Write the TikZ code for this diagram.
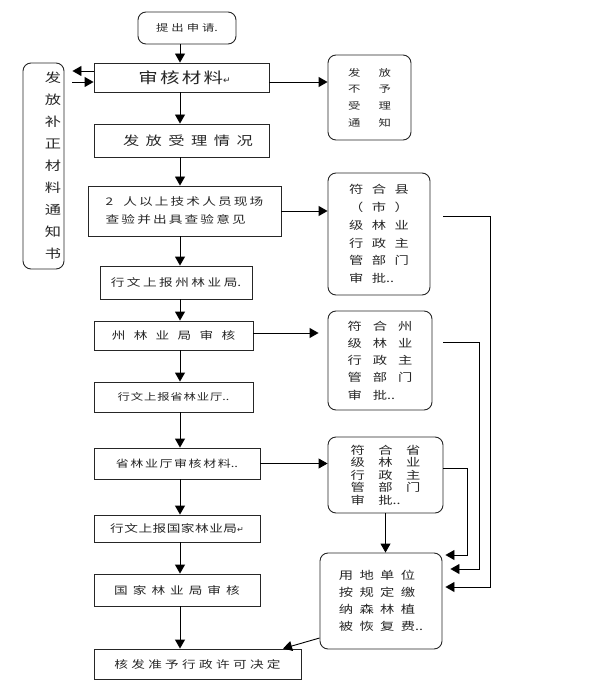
\documentclass[tikz,border=0pt]{standalone}
\usepackage{fontspec}
\setmainfont{Noto Sans CJK SC}[FakeStretch=1.3]
\newfontfamily\dvfont{DejaVu Sans}
\usetikzlibrary{arrows.meta}
\newcommand\ls[2]{\def\lssep{#1}\lsfirst#2\relax}
\def\lsfirst#1{#1\lsloop}
\def\lsloop#1{\ifx#1\relax\else\hspace{\lssep}#1\expandafter\lsloop\fi}
\newcommand\fsz[2]{\fontsize{#1}{#2}\selectfont}
\tikzset{
  box/.style={draw=black!85, line width=0.9pt, rectangle, inner sep=3pt, text=black!85, font=\fsz{10.5}{13}},
  rbox/.style={box, rounded corners=8pt},
  arr/.style={draw=black, line width=0.9pt, -{Triangle[length=9pt,width=10pt]}},
}
\begin{document}
\begin{tikzpicture}[x=1pt,y=-1pt]
\useasboundingbox (0,0) rectangle (590,692);
\coordinate (col) at (180,0);

% main column
\node[rbox, minimum width=98pt, minimum height=32pt] (apply) at (187,28) {\fsz{9.5}{12}\ls{3pt}{提出申请}.\hspace{10pt}};
\node[box, minimum width=175pt, minimum height=29pt] (audit) at (181.5,77.5) {\fsz{15}{18}\hspace{6pt}\ls{2.3pt}{审核材料}{\dvfont\fsz{9}{10}↵}};
\node[box, minimum width=175pt, minimum height=33pt] (issue) at (181.5,140.5) {\fsz{12.5}{15}\hspace{13pt}\ls{6.5pt}{发放受理情况}};
\node[box, minimum width=193pt, minimum height=50pt, align=left, font=\fsz{10.5}{18}] (check) at (184.5,211)
  {2\hspace{10pt}\ls{2.15pt}{人以上技术人员现场}\\\ls{2.15pt}{查验并出具查验意见}};
\node[box, minimum width=152pt, minimum height=33pt] (rep1) at (176,282.5) {\ls{2.5pt}{行文上报州林业局}.};
\node[box, minimum width=159pt, minimum height=29pt] (zhou) at (173.5,335.5) {\ls{8.3pt}{州林业局审核}};
\node[box, minimum width=159pt, minimum height=30pt] (rep2) at (173.5,397) {\fsz{9.5}{12}\ls{0.85pt}{行文上报省林业厅}..};
\node[box, minimum width=166pt, minimum height=31pt] (sheng) at (177,463.5) {\fsz{10}{12}\ls{1.57pt}{省林业厅审核材料}..};
\node[box, minimum width=166pt, minimum height=27pt] (rep3) at (177,528.5) {\ls{0.5pt}{行文上报国家林业局}{\dvfont\fsz{8}{10}↵}\hspace{10pt}};
\node[box, minimum width=166pt, minimum height=32pt] (guo) at (177,590) {\ls{5pt}{国家林业局审核}};
\node[box, minimum width=207pt, minimum height=30pt] (final) at (197.5,664) {\ls{3.3pt}{核发准予行政许可决定}};

% left notice
\node[rbox, minimum width=41pt, minimum height=206pt, inner xsep=3pt, text width=35pt, align=right, font=\fsz{12.5}{22}] (notice) at (43.5,166)
  {发\\放\\补\\正\\材\\料\\通\\知\\书};

% right boxes
\node[rbox, minimum width=83pt, minimum height=85pt, align=left, font=\fsz{9.5}{16.7}] (reject) at (369.5,97.5)
  {\ls{18pt}{发放}\\\ls{18pt}{不予}\\\ls{18pt}{受理}\\\ls{18pt}{通知}};
\node[rbox, minimum width=102pt, minimum height=122pt, align=left, font=\fsz{11}{17.8}] (xian) at (379,234)
  {\ls{8.5pt}{符合县}\\\ls{8.5pt}{（市）}\\\ls{8.5pt}{级林业}\\\ls{8.5pt}{行政主}\\\ls{8.5pt}{管部门}\\\ls{8.5pt}{审批}..};
\node[rbox, minimum width=104pt, minimum height=99pt, align=left, font=\fsz{11}{17.25}] (zhouok) at (380,360.5)
  {\ls{11pt}{符合州}\\\ls{11pt}{级林业}\\\ls{11pt}{行政主}\\\ls{11pt}{管部门}\\\ls{11pt}{审批}..};
\node[rbox, minimum width=115pt, minimum height=76pt, align=left, font=\fsz{11}{12.5}] (shengok) at (385.5,475)
  {\ls{13.5pt}{符合省}\\\ls{13.5pt}{级林业}\\\ls{13.5pt}{行政主}\\\ls{13.5pt}{管部门}\\\ls{13.5pt}{审批}..};
\node[rbox, minimum width=122pt, minimum height=96pt, align=left, font=\fsz{11}{17}] (pay) at (381,601)
  {\ls{6.3pt}{用地单位}\\\ls{6.3pt}{按规定缴}\\\ls{6.3pt}{纳森林植}\\\ls{6.3pt}{被恢复费}..};

% main vertical arrows
\draw[arr] (apply.south -| col) -- (audit.north -| col);
\draw[arr] (audit.south -| col) -- (issue.north -| col);
\draw[arr] (issue.south -| col) -- (check.north -| col);
\draw[arr] (check.south -| col) -- (rep1.north -| col);
\draw[arr] (rep1.south -| col) -- (zhou.north -| col);
\draw[arr] (zhou.south -| col) -- (rep2.north -| col);
\draw[arr] (rep2.south -| col) -- (sheng.north -| col);
\draw[arr] (sheng.south -| col) -- (rep3.north -| col);
\draw[arr] (rep3.south -| col) -- (guo.north -| col);
\draw[arr] (guo.south -| col) -- (final.north -| col);

% audit <-> notice
\coordinate (nl) at ([xshift=8pt]notice.east);
\draw[arr] ([yshift=6.5pt]audit.west) -- ([yshift=6.5pt]audit.west -| nl);
\draw[arr] ([yshift=-4.5pt]audit.west -| nl) -- ([yshift=-4.5pt]audit.west);

% audit -> reject
\draw[arr] ([yshift=-4.5pt]audit.east) -- ([yshift=-4.5pt]audit.east -| reject.west);

% to right boxes
\draw[arr] (check.east) -- (check.east -| xian.west);
\coordinate (zt) at ([xshift=-9pt]zhouok.west);
\draw[arr] ([yshift=2.5pt]zhou.east) -- ([yshift=2.5pt]zhou.east -| zt);
\draw[arr] (sheng.east) -- (sheng.east -| shengok.west);
\draw[arr] (shengok.south) -- (shengok.south |- pay.north);

% return lines to pay
\coordinate (px1) at ([xshift=3pt,yshift=14pt]pay.east);
\coordinate (px2) at ([xshift=8pt,yshift=32pt]pay.east);
\coordinate (px3) at ([xshift=3pt,yshift=46pt]pay.east);
\draw[arr] ([xshift=13pt,yshift=18pt]xian.east) -- ++(47,0) |- (px1);
\draw[arr] ([xshift=11pt,yshift=18.5pt]zhouok.east) -- ++(36,0) |- (px2);
\draw[arr] ([yshift=7pt]shengok.east) -- ++(24,0) |- (px3);

% pay -> final
\draw[arr] ([yshift=-37pt]pay.west) -- ([xshift=85.5pt]final.north);
\end{tikzpicture}
\end{document}
